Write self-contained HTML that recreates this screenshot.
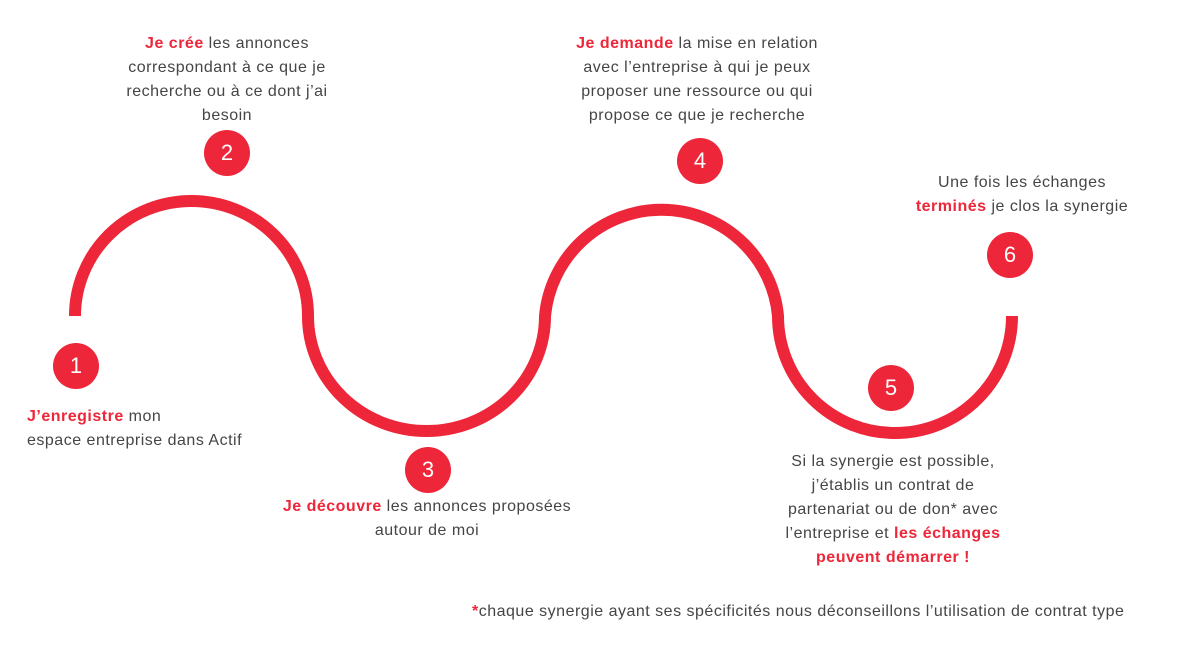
<!DOCTYPE html>
<html><head><meta charset="utf-8"><style>
html,body{margin:0;padding:0;background:#fff;}
body{width:1180px;height:646px;position:relative;overflow:hidden;font-family:"Liberation Sans",sans-serif;color:#454545;font-size:16px;letter-spacing:0.5px;}
.t{position:absolute;line-height:24px;white-space:nowrap;}
.c{text-align:center;}
b{color:#ee2639;}
.n{position:absolute;width:46px;height:46px;border-radius:50%;background:#ee2639;color:#fff;font-size:22px;line-height:46px;text-align:center;letter-spacing:0;}
</style></head><body>
<svg width="1180" height="646" style="position:absolute;left:0;top:0">
<path d="M75 316 A116.5 115 0 0 1 308 316 A118.5 115 0 0 0 545 316 A117 117 0 0 1 778 316 A117 117 0 0 0 1012 316" fill="none" stroke="#ee2639" stroke-width="12"/>
</svg>
<div class="n" style="left:53px;top:343px">1</div>
<div class="n" style="left:204px;top:130px">2</div>
<div class="n" style="left:405px;top:447px">3</div>
<div class="n" style="left:677px;top:138px">4</div>
<div class="n" style="left:868px;top:365px">5</div>
<div class="n" style="left:987px;top:232px">6</div>

<div class="t c" style="left:77px;width:300px;top:32px"><b>Je crée</b> les annonces<br>correspondant à ce que je<br>recherche ou à ce dont j’ai<br>besoin</div>
<div class="t c" style="left:547px;width:300px;top:32px"><b>Je demande</b> la mise en relation<br>avec l’entreprise à qui je peux<br>proposer une ressource ou qui<br>propose ce que je recherche</div>
<div class="t c" style="left:872px;width:300px;top:171px">Une fois les échanges<br><b>terminés</b> je clos la synergie</div>
<div class="t" style="left:27px;top:405px"><b>J’enregistre</b> mon<br>espace entreprise dans Actif</div>
<div class="t c" style="left:227px;width:400px;top:495px"><b>Je découvre</b> les annonces proposées<br>autour de moi</div>
<div class="t c" style="left:743px;width:300px;top:450px">Si la synergie est possible,<br>j’établis un contrat de<br>partenariat ou de don* avec<br>l’entreprise et <b>les échanges<br>peuvent démarrer !</b></div>
<div class="t" style="left:472px;top:600px"><b>*</b>chaque synergie ayant ses spécificités nous déconseillons l’utilisation de contrat type</div>
</body></html>
